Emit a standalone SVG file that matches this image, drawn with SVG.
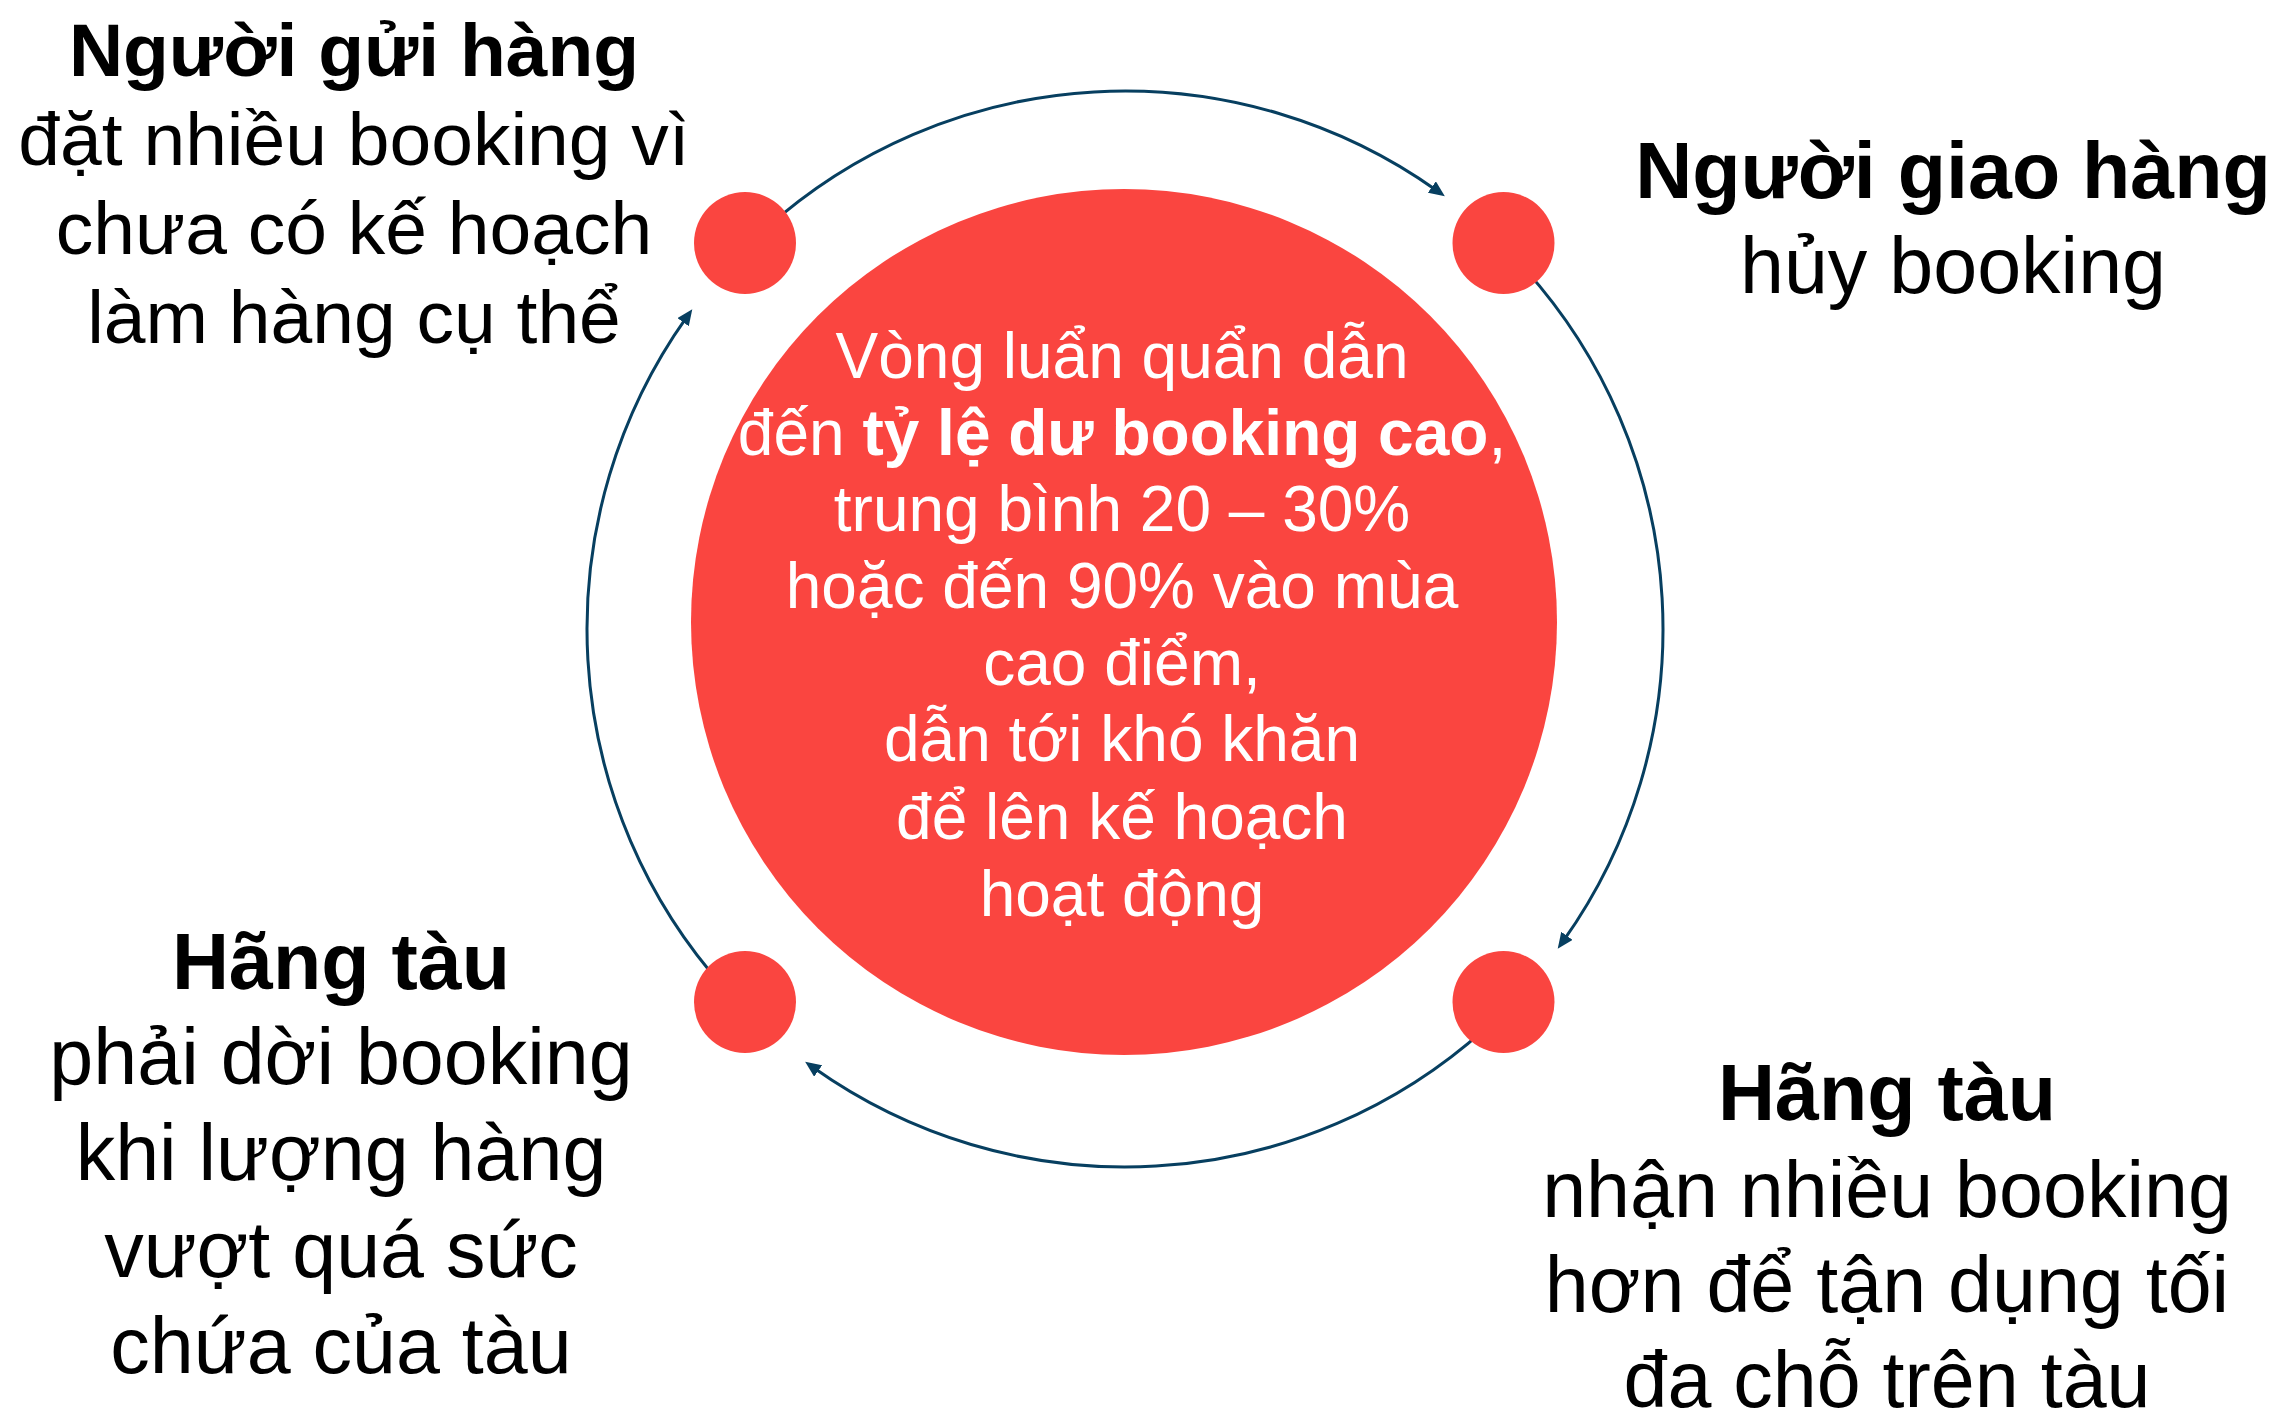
<svg xmlns="http://www.w3.org/2000/svg" width="2279" height="1415" viewBox="0 0 2279 1415">
  <style>
    .dot { fill: #FA4540; }
    .conn { fill: none; stroke: #073F60; stroke-width: 3; }
    .t { font-family: "Liberation Sans", Arial, sans-serif; fill: #000000; text-anchor: middle; }
    .b { font-weight: bold; }
    .w { font-family: "Liberation Sans", Arial, sans-serif; fill: #FFFFFF; text-anchor: middle; font-size: 64px; }
  </style>
  <defs>
    <marker id="arrow" markerUnits="userSpaceOnUse" markerWidth="16" markerHeight="14" refX="6" refY="7" orient="auto">
      <path d="M0,0 L16,7 L0,14 Z" fill="#073F60"/>
    </marker>
  </defs>
  <rect width="2279" height="1415" fill="#FFFFFF"/>

  <g id="connectors">
    <path class="conn" marker-end="url(#arrow)" d="M765.0,229.2 A538,538 0 0 1 1436.7,190.5"/>
    <path class="conn" marker-end="url(#arrow)" d="M1524.8,269.0 A538,538 0 0 1 1563.5,940.7"/>
    <path class="conn" marker-end="url(#arrow)" d="M1485.0,1028.8 A538,538 0 0 1 813.3,1067.5"/>
    <path class="conn" marker-end="url(#arrow)" d="M725.2,989.0 A538,538 0 0 1 686.5,317.3"/>
  </g>

  <g id="center">
    <circle class="dot" cx="1124" cy="622" r="433"/>
    <text class="w" x="1122" y="378">Vòng luẩn quẩn dẫn</text>
    <text class="w" x="1122" y="455">đến <tspan font-weight="bold">tỷ lệ dư booking cao</tspan>,</text>
    <text class="w" x="1122" y="531">trung bình 20 – 30%</text>
    <text class="w" x="1122" y="608">hoặc đến 90% vào mùa</text>
    <text class="w" x="1122" y="685">cao điểm,</text>
    <text class="w" x="1122" y="761">dẫn tới khó khăn</text>
    <text class="w" x="1122" y="839">để lên kế hoạch</text>
    <text class="w" x="1122" y="916">hoạt động</text>
  </g>

  <g id="dot-top-left"><circle class="dot" cx="745" cy="243" r="51"/></g>
  <g id="dot-top-right"><circle class="dot" cx="1503.5" cy="243" r="51"/></g>
  <g id="dot-bottom-right"><circle class="dot" cx="1503.5" cy="1002" r="51"/></g>
  <g id="dot-bottom-left"><circle class="dot" cx="745" cy="1002" r="51"/></g>

  <g id="label-top-left" class="t" font-size="75">
    <text class="t b" x="354" y="76">Người gửi hàng</text>
    <text class="t" x="354" y="165">đặt nhiều booking vì</text>
    <text class="t" x="354" y="254">chưa có kế hoạch</text>
    <text class="t" x="354" y="343">làm hàng cụ thể</text>
  </g>

  <g id="label-top-right" font-size="79">
    <text class="t b" x="1953" y="198">Người giao hàng</text>
    <text class="t" x="1953" y="293">hủy booking</text>
  </g>

  <g id="label-bottom-right" font-size="79">
    <text class="t b" x="1887" y="1120">Hãng tàu</text>
    <text class="t" x="1887" y="1217">nhận nhiều booking</text>
    <text class="t" x="1887" y="1312">hơn để tận dụng tối</text>
    <text class="t" x="1887" y="1407">đa chỗ trên tàu</text>
  </g>

  <g id="label-bottom-left" font-size="79">
    <text class="t b" x="341" y="989">Hãng tàu</text>
    <text class="t" x="341" y="1084">phải dời booking</text>
    <text class="t" x="341" y="1180">khi lượng hàng</text>
    <text class="t" x="341" y="1277">vượt quá sức</text>
    <text class="t" x="341" y="1373">chứa của tàu</text>
  </g>
</svg>
